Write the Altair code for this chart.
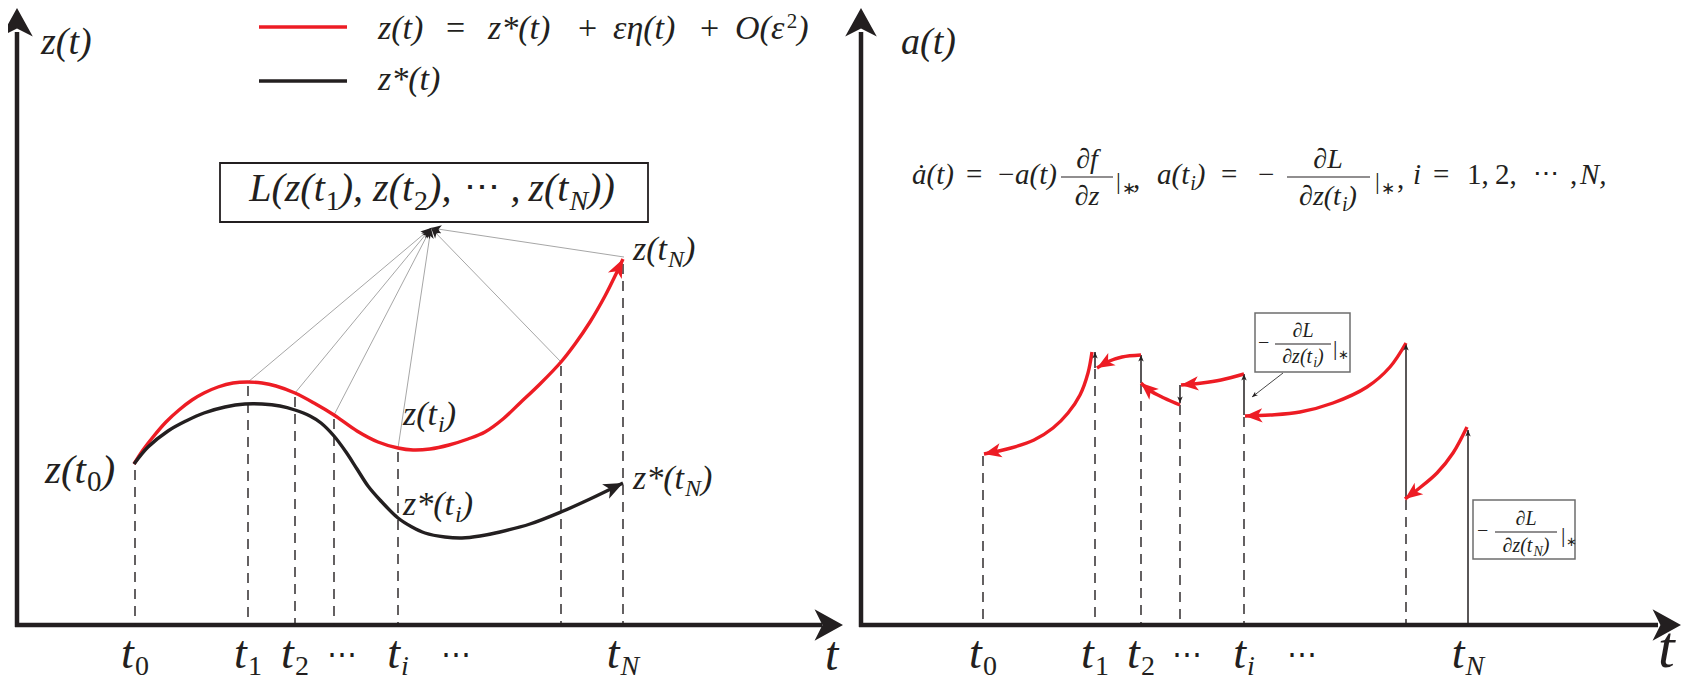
import math
import altair as alt
import pandas as pd

RED = "#ed1c24"
INK = "#231f20"
GREY = "#8f8f8f"
FONT = "Liberation Serif"

# ------------------------------------------------------------------
# Values, in figure pixels
# (x to the right, y downward; both time axes lie at y = 625).
# ------------------------------------------------------------------
BASE = 625
AXIS_TOP = 32
y_axis_x = [17, 861]
x_axis_x = [15, 859]
x_axis_end = [822, 1658]
x_axis_tip = [843, 1681]
y_axis_tip = [8, 8]

# ---- panel (a) ----
a_t = [135, 248, 295, 334, 398, 561, 623]            # t0, t1, t2, t3, ti, t(N-1), tN
a_drop_top = [470, 386, 397, 419, 452, 366, 264]
a_red_x = [134, 143, 153, 166, 179, 192, 204, 218, 233, 248, 262, 276, 295, 314, 334, 357,
           378, 398, 413, 430, 449, 468, 485, 503, 520, 540, 561, 575, 590, 605, 616, 623]
a_red_y = [464, 450, 437, 422, 410, 400, 393, 387, 383, 382, 383, 386, 393, 403, 415, 431,
           442, 448, 450, 449, 445, 439, 432, 419, 403, 384, 362, 344, 322, 296, 274, 259]
a_blk_x = [134, 148, 168, 186, 204, 225, 245, 262, 280, 295, 310, 321, 334, 346, 357, 368,
           380, 398, 412, 425, 445, 462, 480, 500, 530, 561, 590, 623]
a_blk_y = [464, 447, 431, 421, 413, 407, 404, 404, 406, 410, 416, 423, 436, 452, 469, 486,
           500, 518, 527, 533, 537, 538, 536, 532, 524, 512, 499, 483]
a_feed_x = [248, 295, 334, 398, 561, 624]
a_feed_y = [382, 393, 415, 448, 362, 257]
a_sink = (431, 228)
a_box = (220, 163, 648, 222)

# ---- panel (b) ----
b_t = [983, 1095, 1141, 1180, 1244, 1406, 1468]       # t0, t1, t2, t3, ti, t(N-1), tN
b_drop_top = [456, 369, 384, 405, 417, 500]
b_seg_x = [[1092, 1088, 1080, 1068, 1053, 1034, 1011, 984],
           [1141, 1122, 1107, 1097],
           [1180, 1164, 1149, 1141],
           [1244, 1221, 1202, 1181],
           [1406, 1390, 1367, 1333, 1300, 1270, 1245],
           [1467, 1453, 1437, 1417, 1405]]
b_seg_y = [[352, 373, 395, 413, 428, 440, 448, 454],
           [355, 357, 362, 368],
           [405, 398, 390, 383],
           [374, 380, 383, 385],
           [343, 367, 387, 403, 412, 415, 416],
           [427, 453, 473, 490, 499]]
b_jump_x = [1095, 1141, 1180, 1244, 1406, 1468]
b_jump_from = [368, 383, 385, 415, 498, 625]
b_jump_to = [352, 355, 403, 374, 344, 430]
b_boxes = [(1255, 313, 1350, 372), (1473, 500, 1575, 559)]
b_pointer = (1283, 373, 1252, 397)
frac_bars = [(1061, 1113, 177), (1287, 1370, 177), (1275, 1331, 344), (1495, 1557, 532)]

# ------------------------------------------------------------------
def heading(x0, y0, x1, y1):
    return math.degrees(math.atan2(x1 - x0, -(y1 - y0))) % 360

X = alt.X("x:Q", scale=alt.Scale(domain=[8, 1682], nice=False, zero=False), axis=None)
Y = alt.Y("y:Q", scale=alt.Scale(domain=[8, 681], nice=False, zero=False, reverse=True), axis=None)
X2 = alt.X2("x2:Q")
Y2 = alt.Y2("y2:Q")

def rules(rows, **kw):
    return alt.Chart(pd.DataFrame(rows)).mark_rule(**kw).encode(x=X, y=Y, x2=X2, y2=Y2)

axis_rows = []
for i in range(2):
    axis_rows.append(dict(x=y_axis_x[i], y=BASE + 2, x2=y_axis_x[i], y2=AXIS_TOP))
    axis_rows.append(dict(x=x_axis_x[i], y=BASE, x2=x_axis_end[i], y2=BASE))
axes = rules(axis_rows, color=INK, strokeWidth=4.5)

dash_rows = [dict(x=t, y=top, x2=t, y2=BASE) for t, top in zip(a_t, a_drop_top)]
dash_rows += [dict(x=t, y=top, x2=t, y2=BASE) for t, top in zip(b_t[:6], b_drop_top)]
dashes = rules(dash_rows, color=INK, strokeWidth=1.4, strokeDash=[10, 7])

grey_rows = [dict(x=x, y=y, x2=a_sink[0], y2=a_sink[1]) for x, y in zip(a_feed_x, a_feed_y)]
greys = rules(grey_rows, color=GREY, strokeWidth=0.8)
pointer = rules([dict(x=b_pointer[0], y=b_pointer[1], x2=b_pointer[2], y2=b_pointer[3])],
                color="#333333", strokeWidth=0.9)

jump_rows = [dict(x=x, y=f, x2=x, y2=t) for x, f, t in zip(b_jump_x, b_jump_from, b_jump_to)]
jumps = rules(jump_rows, color=INK, strokeWidth=1.5)

bars = rules([dict(x=a, x2=b, y=y, y2=y) for a, b, y in frac_bars], color=INK, strokeWidth=1.1)

curve_rows = []
for i, (x, y) in enumerate(zip(a_red_x, a_red_y)):
    curve_rows.append(dict(seg="a_red", i=i, x=x, y=y, col=RED))
for i, (x, y) in enumerate(zip(a_blk_x, a_blk_y)):
    curve_rows.append(dict(seg="a_blk", i=i, x=x, y=y, col=INK))
for k, (xs, ys) in enumerate(zip(b_seg_x, b_seg_y)):
    for i, (x, y) in enumerate(zip(xs, ys)):
        curve_rows.append(dict(seg=f"b{k}", i=i, x=x, y=y, col=RED))
curves = alt.Chart(pd.DataFrame(curve_rows)).mark_line(
    strokeWidth=3.4, strokeCap="butt", interpolate="catmull-rom").encode(
    x=X, y=Y, detail="seg:N", order="i:Q", color=alt.Color("col:N", scale=None))

STEALTH = "M0,0 L0.7,1.7 L0,1.25 L-0.7,1.7 Z"
AXHEAD = "M0,0 L1,1.8 L0,1.3 L-1,1.8 Z"

head_rows = []
head_rows.append(dict(x=a_red_x[-1], y=a_red_y[-1], ang=heading(a_red_x[-3], a_red_y[-3], a_red_x[-1], a_red_y[-1]), sz=480, col=RED))
head_rows.append(dict(x=a_blk_x[-1], y=a_blk_y[-1], ang=heading(a_blk_x[-2], a_blk_y[-2], a_blk_x[-1], a_blk_y[-1]), sz=520, col=INK))
for xs, ys in zip(b_seg_x, b_seg_y):
    head_rows.append(dict(x=xs[-1], y=ys[-1], ang=heading(xs[-2], ys[-2], xs[-1], ys[-1]), sz=420, col=RED))
for x, y in zip(a_feed_x, a_feed_y):
    head_rows.append(dict(x=a_sink[0], y=a_sink[1], ang=heading(x, y, a_sink[0], a_sink[1]), sz=150, col=INK))
for x, f, t in zip(b_jump_x, b_jump_from, b_jump_to):
    head_rows.append(dict(x=x, y=t, ang=heading(x, f, x, t), sz=60, col=INK))
head_rows.append(dict(x=b_pointer[2], y=b_pointer[3], ang=heading(*b_pointer), sz=45, col=INK))
heads = alt.Chart(pd.DataFrame(head_rows)).mark_point(shape=STEALTH, filled=True, opacity=1, strokeWidth=0).encode(
    x=X, y=Y, angle=alt.Angle("ang:Q", scale=None), size=alt.Size("sz:Q", scale=None),
    color=alt.Color("col:N", scale=None))

ax_rows = [dict(x=y_axis_x[i], y=y_axis_tip[i], ang=0) for i in range(2)]
ax_rows += [dict(x=x_axis_tip[i], y=BASE, ang=90) for i in range(2)]
ax_heads = alt.Chart(pd.DataFrame(ax_rows)).mark_point(shape=AXHEAD, filled=True, opacity=1, strokeWidth=0,
                                                       size=1000, color=INK).encode(
    x=X, y=Y, angle=alt.Angle("ang:Q", scale=None))

box_a = alt.Chart(pd.DataFrame([dict(x=a_box[0], y=a_box[1], x2=a_box[2], y2=a_box[3])])).mark_rect(
    fill="white", stroke=INK, strokeWidth=1.8).encode(x=X, y=Y, x2=X2, y2=Y2)
box_b = alt.Chart(pd.DataFrame([dict(x=a, y=b, x2=c, y2=d) for a, b, c, d in b_boxes])).mark_rect(
    fill="white", stroke="#6d6d6d", strokeWidth=1.5).encode(x=X, y=Y, x2=X2, y2=Y2)

# ------------------------------------------------------------------
# text, typeset piece by piece
W_IT = {'z': .389, '(': .333, ')': .333, 't': .278, 'a': .5, 'ȧ': .5, 'L': .556, ',': .25,
        '*': .5, 'ε': .44, 'η': .5, 'O': .722, 'N': .667, 'i': .278, '∂': .5, 'f': .278, ' ': .25}
W_UP = {'=': .564, '+': .564, '−': .564, '|': .2, ',': .25, '∗': .5, '⋯': 1.0,
        '(': .333, ')': .333, ' ': .25}

def width(s, size, it):
    tab = W_IT if it else W_UP
    return sum(tab.get(c, .5) for c in s) * size

rows = []
def T(s, x, y, size, it=True, al="left"):
    rows.append(dict(text=s, x=x, y=y, size=size, it=it, al=al))

def seq(x, y, parts, center=False):
    """parts: (text, size, italic, dy[, gap before])"""
    def gap(p):
        return (p[4] if len(p) > 4 else 0) + (1 if p[3] else 0)
    total = sum(width(p[0], p[1], p[2]) + gap(p) for p in parts)
    cx = x - total / 2 if center else x
    for p in parts:
        s, size, it, dy = p[:4]
        cx += gap(p)
        T(s, cx, y + dy, size, it)
        cx += width(s, size, it)

# panel (a)
T("z(t)", 41, 54, 38)
seq(378, 39, [("z(t)", 34, True, 0)])
T("=", 446, 39, 34, False)
seq(488, 39, [("z*(t)", 34, True, 0)])
T("+", 578, 39, 34, False)
seq(613, 39, [("εη(t)", 34, True, 0)])
T("+", 700, 39, 34, False)
seq(735, 39, [("O(ε", 34, True, 0), ("2", 21, False, -11), (")", 34, True, 0)])
seq(378, 90, [("z*(t)", 34, True, 0)])

seq(432, 201, [("L(z(t", 40, True, 0), ("1", 28, False, 9), ("), z(t", 40, True, 0),
               ("2", 28, False, 9), ("),", 40, True, 0), ("⋯", 36, False, -2, 12),
               (",", 40, True, 0, 10), ("z(t", 40, True, 0, 8), ("N", 28, True, 9),
               ("))", 40, True, 0)], center=True)

seq(45, 483, [("z(t", 41, True, 0), ("0", 29, False, 8), (")", 41, True, 0)])
seq(403, 425, [("z(t", 34, True, 0), ("i", 24, True, 7), (")", 34, True, 0)])
seq(403, 515, [("z*(t", 34, True, 0), ("i", 24, True, 7), (")", 34, True, 0)])
seq(633, 260, [("z(t", 34, True, 0), ("N", 24, True, 7), (")", 34, True, 0)])
seq(633, 489, [("z*(t", 34, True, 0), ("N", 24, True, 7), (")", 34, True, 0)])
T("t", 825, 670, 48)

tick_sub = ["0", "1", "2", None, "i", None, "N"]
for lines in (a_t, b_t):
    for t, s in zip(lines, tick_sub):
        if s is None:
            continue
        seq(t, 668, [("t", 46, True, 0), (s, 28, s in ("i", "N"), 7)], center=True)
for cx in (342, 456, 1187, 1302):
    T("⋯", cx, 664, 30, False, "center")

# panel (b)
T("a(t)", 901, 54, 38)
T("t", 1658, 667, 60)

seq(912, 184, [("ȧ(t)", 29, True, 0)])
T("=", 966, 184, 29, False)
T("−", 998, 184, 29, False)
seq(1015, 184, [("a(t)", 29, True, 0)])
T("∂f", 1087, 168, 28, True, "center")
T("∂z", 1087, 205, 28, True, "center")
T("|", 1116, 189, 24, False); T("∗", 1122, 194, 17, False); T(",", 1133, 188, 29, False)
seq(1157, 184, [("a(t", 29, True, 0), ("i", 20, True, 6), (")", 29, True, 0)])
T("=", 1221, 184, 29, False)
T("−", 1258, 184, 29, False)
T("∂L", 1328, 168, 28, True, "center")
seq(1328, 205, [("∂z(t", 28, True, 0), ("i", 20, True, 6), (")", 28, True, 0)], center=True)
T("|", 1375, 189, 24, False); T("∗", 1381, 194, 17, False); T(",", 1397, 188, 29, False)
T("i", 1413, 184, 29)
T("=", 1433, 184, 29, False)
T("1,", 1467, 184, 29, False)
T("2,", 1495, 184, 29, False)
T("⋯", 1546, 182, 26, False, "center")
T(",", 1570, 184, 29, False)
T("N,", 1580, 184, 29)

# box at ti
T("−", 1258, 349, 20, False)
T("∂L", 1303, 337, 20, True, "center")
seq(1303, 363, [("∂z(t", 20, True, 0), ("i", 14, True, 4), (")", 20, True, 0)], center=True)
T("|", 1333, 355, 22, False); T("∗", 1338, 359, 13, False)
# box at tN
T("−", 1477, 537, 20, False)
T("∂L", 1526, 525, 20, True, "center")
seq(1526, 552, [("∂z(t", 20, True, 0), ("N", 14, True, 4), (")", 20, True, 0)], center=True)
T("|", 1561, 542, 22, False); T("∗", 1566, 546, 13, False)

tdf = pd.DataFrame(rows)
text_layers = []
for it in (True, False):
    for al in ("left", "center"):
        sub = tdf[(tdf.it == it) & (tdf.al == al)]
        if len(sub) == 0:
            continue
        text_layers.append(
            alt.Chart(sub).mark_text(font=FONT, fontStyle="italic" if it else "normal", align=al,
                                     baseline="alphabetic", color=INK).encode(
                x=X, y=Y, text="text:N", size=alt.Size("size:Q", scale=None)))

legend = rules([dict(x=259, x2=347, y=27, y2=27, c=RED), dict(x=259, x2=347, y=81, y2=81, c=INK)],
               strokeWidth=3.5).encode(color=alt.Color("c:N", scale=None))

chart = alt.layer(
    axes, ax_heads, dashes, greys, pointer, jumps, curves, heads, legend, box_a, box_b, bars,
    *text_layers
).properties(
    width=1674, height=673, padding=0, autosize=alt.AutoSizeParams(type="none")
).configure_view(stroke=None)

chart.save("out.html", embed_options={"renderer": "svg", "actions": False})
